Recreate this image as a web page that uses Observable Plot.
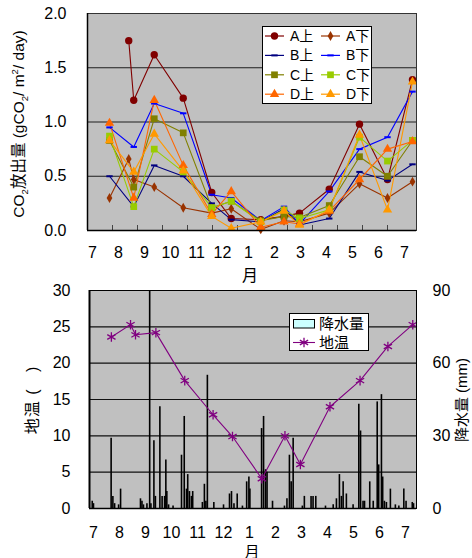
<!DOCTYPE html>
<html><head><meta charset="utf-8">
<script src="https://cdn.jsdelivr.net/npm/d3@7"></script>
<script src="https://cdn.jsdelivr.net/npm/@observablehq/plot@0.6"></script>
<style>
body{margin:0;background:#fff;}
#wrap{position:relative;width:472px;height:558px;font-family:"Liberation Sans",Arial,"Noto Sans CJK JP",sans-serif;color:#000;overflow:hidden;background:#fff}
.abs{position:absolute}
.vt{position:absolute;white-space:nowrap;line-height:1;transform:translate(-50%,-50%) rotate(-90deg);}
.vt sub,.vt sup{font-size:0.62em;line-height:0}
</style></head><body><div id="wrap"></div>
<script>
// ---------------- data ----------------
// sampling dates, in months since 1 July
const sampleMonths = [0.88, 1.65, 1.85, 2.67, 3.83, 4.97, 5.75, 6.93, 7.86, 8.48, 9.67, 10.88, 12.0, 13.0];
const seriesNames = ["A上","A下","B上","B下","C上","C下","D上","D下"];
const A_up   = [null, 1.75, 1.20, 1.62, 1.22, 0.35, 0.11, 0.10, 0.13, 0.16, 0.38, 0.98, 0.47, 1.39];
const A_down = [0.30, 0.66, 0.47, 0.40, 0.21, 0.16, 0.20, 0.01, 0.09, 0.08, 0.16, 0.43, 0.30, 0.45];
const B_up   = [0.50, null, 0.22, 0.60, 0.50, 0.25, 0.10, 0.08, 0.20, 0.05, 0.11, 0.54, 0.46, 0.61];
const B_down = [0.95, null, 0.77, 1.17, 1.08, 0.33, 0.30, 0.09, 0.22, 0.06, 0.36, 0.75, 0.86, 1.28];
const C_up   = [0.83, null, 0.40, 1.03, 0.90, 0.21, 0.27, 0.09, 0.13, 0.12, 0.23, 0.68, 0.50, 0.83];
const C_down = [0.87, null, 0.22, 0.75, 0.54, 0.21, 0.27, 0.08, 0.19, 0.11, 0.19, 0.86, 0.64, 0.83];
const D_up   = [0.99, null, 0.30, 1.20, 0.60, 0.15, 0.36, 0.03, 0.08, 0.06, 0.18, 0.47, 0.75, 0.82];
const D_down = [0.83, null, 0.54, 0.89, 0.55, 0.13, 0.02, 0.08, 0.18, 0.05, 0.19, 0.88, 0.19, 1.37];
const co2Ticks = [0, 0.5, 1.0, 1.5, 2.0];

const soilTemp = [23.6, 25.3, 23.9, 24.2, 17.6, 12.9, 9.9, 4.1, 10.0, 6.05, 14.0, 17.6, 22.3, 25.3];
const tempTicks = [0, 5, 10, 15, 20, 25, 30];
const rainTicks = [0, 30, 60, 90];

const rainMonths = [0.11,0.16,0.87,0.94,1.01,1.17,1.25,2.05,2.11,2.17,2.31,2.42,2.47,2.59,2.65,2.83,2.92,3.02,3.07,3.11,3.18,3.36,3.70,3.81,3.90,3.95,4.02,4.10,4.15,4.54,4.62,4.68,4.74,5.00,5.39,5.63,5.71,5.81,5.94,6.15,6.32,6.41,6.45,6.92,7.00,7.08,7.14,7.36,7.84,7.94,8.04,8.11,8.19,8.56,8.64,8.91,8.99,9.10,9.49,9.80,9.93,10.05,10.13,10.20,10.33,10.60,10.83,10.90,11.00,11.06,11.27,11.41,11.57,11.63,11.74,11.79,11.86,11.94,12.10,12.30,12.44,12.64,12.73,12.98,13.03];
const rainMm     = [3,2,29,5,2,1.5,8,4,3,1.5,2,120,2,28,5,42,5,5,20,7,1.5,1,22,38,8,14,7,5,7,2.5,10,3,55,2.5,1.5,6,7,2,6,1,11,13,8,33,38,16,15,3,1,4,22,11,29,1,5,5,5,5,1,1.5,4,14,5,11,6,1.5,43,32,3,3,11,3,44,18,47,13,3,2.5,8,1.5,1,8,3,2.5,2];

const monthLabels = ["7","8","9","10","11","12","1","2","3","4","5","6","7"];
const monthTicks = [1,2,3,4,5,6,7,8,9,10,11,12];

// ---------------- styles ----------------
const FONT = '"Liberation Sans", Arial, "Noto Sans CJK JP", sans-serif';
const seriesValues = [A_up, A_down, B_up, B_down, C_up, C_down, D_up, D_down];
const seriesColors = ["#800000","#993300","#000080","#0000ff","#808000","#99cc00","#ff6600","#ff9900"];
const dash = {draw(ctx, size){ const w = Math.sqrt(size)/2; ctx.moveTo(-w,-1); ctx.lineTo(w,-1); ctx.lineTo(w,1); ctx.lineTo(-w,1); ctx.closePath(); }};
const seriesSymbols = [d3.symbolCircle, d3.symbolDiamond, dash, dash, d3.symbolSquare, d3.symbolSquare, d3.symbolTriangle, d3.symbolTriangle];
const seriesR = [3.7, 3.0, 3.6, 3.6, 3.8, 3.8, 3.5, 3.5];

const wrap = document.getElementById("wrap");
function place(node, left, top){ node.style.position="absolute"; node.style.left=left+"px"; node.style.top=top+"px"; wrap.appendChild(node); return node; }
function html(s, left, top, cls, style){ const d=document.createElement("div"); d.className=cls||""; d.innerHTML=s; if(style) d.setAttribute("style", style); d.style.position="absolute"; d.style.left=left+"px"; d.style.top=top+"px"; wrap.appendChild(d); return d; }

// ---------------- top chart ----------------
const co2Rows = [];
seriesNames.forEach((name, i) => seriesValues[i].forEach((v, j) => { if (v != null) co2Rows.push({series: name, t: sampleMonths[j], v}); }));

const topH = 235, topPlotTop = 13, topPlotBottom = 230;
const topChart = Plot.plot({
  width: 472, height: topH,
  marginLeft: 87, marginRight: 472 - 416, marginTop: topPlotTop, marginBottom: topH - topPlotBottom,
  style: {fontFamily: FONT, fontSize: "16px", background: "transparent", color: "#000", overflow: "visible"},
  x: {domain: [0, 13.16], axis: null},
  y: {domain: [0, 2], axis: null},
  color: {domain: seriesNames, range: seriesColors},
  marks: [
    Plot.frame({fill: "#c0c0c0", stroke: null}),
    Plot.ruleY([0.5, 1.0, 1.5], {stroke: "#1e1e1e", strokeWidth: 1.2}),
    Plot.tickX(monthTicks, {x: d => d, stroke: "#444", insetTop: (topPlotBottom - topPlotTop) - 5}),
    Plot.line(co2Rows, {x: "t", y: "v", z: "series", stroke: "series", strokeWidth: 1.1}),
    ...seriesNames.map((name, i) => Plot.dot(co2Rows.filter(d => d.series === name), {x: "t", y: "v", symbol: seriesSymbols[i], fill: seriesColors[i], r: seriesR[i], stroke: null})),
    Plot.axisY(co2Ticks, {anchor: "left", tickSize: 0, tickPadding: 21, tickFormat: d3.format(".1f"), fontSize: 16, label: null}),
    Plot.frame({stroke: "#333", strokeWidth: 1}),
    Plot.ruleX([0], {stroke: "#000", strokeWidth: 1.5}),
    Plot.ruleY([0], {stroke: "#000", strokeWidth: 1.5})
  ]
});
place(topChart, 0, 0);

// top legend
(function(){
  const W = 110, H = 78;
  const svg = d3.create("svg").attr("width", W).attr("height", H).style("overflow","visible");
  svg.append("rect").attr("x",0.5).attr("y",0.5).attr("width",W-1).attr("height",H-1).attr("fill","#fff").attr("stroke","#000");
  seriesNames.forEach((name, i) => {
    const col = i % 2, row = Math.floor(i / 2);
    const x0 = col ? 59 : 3, y = 10 + row * 19.4;
    const g = svg.append("g");
    g.append("line").attr("x1", x0).attr("x2", x0 + 19).attr("y1", y).attr("y2", y).attr("stroke", seriesColors[i]).attr("stroke-width", 1.2);
    g.append("path").attr("transform", `translate(${x0 + 9.5},${y})`).attr("d", d3.symbol(seriesSymbols[i], Math.PI * seriesR[i] * seriesR[i])()).attr("fill", seriesColors[i]);
    g.append("text").attr("x", x0 + 25).attr("y", y).attr("dy", "0.36em").attr("font-size", 14).attr("font-family", FONT).text(name);
  });
  place(svg.node(), 262, 26);
})();

// top axis title
html('CO<sub>2</sub>放出量 (gCO<sub>2</sub>/ m<sup>2</sup>/ day)', 19, 124, "vt", "font-size:15.5px");

// month label rows
function monthRow(left, right){
  return Plot.plot({
    width: 472, height: 22, marginLeft: left, marginRight: 472 - right, marginTop: 0, marginBottom: 22,
    style: {fontFamily: FONT, fontSize: "16px", background: "transparent", color: "#000", overflow: "visible"},
    x: {type: "point", domain: d3.range(monthLabels.length), padding: 0, axis: null},
    marks: [Plot.axisX(d3.range(monthLabels.length), {anchor: "bottom", tickSize: 0, tickPadding: 0, tickFormat: i => monthLabels[i], fontSize: 16, label: null})]
  });
}
place(monthRow(87.5, 407.5), 0, 246);
html("月", 250, 276, "", "font-size:16px;transform:translate(-50%,-50%);line-height:1");

// ---------------- bottom chart ----------------
const rainRows = rainMonths.map((t, i) => ({t, mm: rainMm[i]}));
const tempRows = sampleMonths.map((t, i) => ({t, temp: soilTemp[i]}));
const rainPerDeg = rainTicks[rainTicks.length - 1] / tempTicks[tempTicks.length - 1];

const botTop = 280, botH = 240, botPlotTop = 290, botPlotBottom = 508;
const botChart = Plot.plot({
  width: 472, height: botH,
  marginLeft: 89, marginRight: 472 - 416, marginTop: botPlotTop - botTop, marginBottom: botTop + botH - botPlotBottom,
  style: {fontFamily: FONT, fontSize: "16px", background: "transparent", color: "#000", overflow: "visible"},
  x: {domain: [0, 13.15], axis: null},
  y: {domain: [0, 30], axis: null},
  marks: [
    Plot.frame({fill: "#c0c0c0", stroke: null}),
    Plot.ruleY([5, 10, 15, 20, 25], {stroke: "#111", strokeWidth: 1.2}),
    Plot.ruleX(rainRows, {x: "t", y1: 0, y2: d => d.mm / rainPerDeg, stroke: "#000", strokeWidth: 1.6, clip: true}),
    Plot.line(tempRows, {x: "t", y: "temp", stroke: "#800080", strokeWidth: 1.1}),
    Plot.dot(tempRows, {x: "t", y: "temp", symbol: "asterisk", stroke: "#800080", r: 4.5, strokeWidth: 1.3}),
    Plot.axisY(tempTicks, {anchor: "left", tickSize: 0, tickPadding: 19, fontSize: 16, label: null}),
    Plot.axisY(rainTicks.map(v => v / rainPerDeg), {anchor: "right", tickSize: 0, tickPadding: 16, tickFormat: d => String(Math.round(d * rainPerDeg)), fontSize: 16, label: null}),
    Plot.frame({stroke: "#000", strokeWidth: 1}),
    Plot.ruleX([0], {stroke: "#000", strokeWidth: 2}),
    Plot.ruleY([0], {stroke: "#000", strokeWidth: 1.5})
  ]
});
place(botChart, 0, botTop);

// bottom legend
(function(){
  const W = 80, H = 38;
  const svg = d3.create("svg").attr("width", W).attr("height", H).style("overflow","visible");
  svg.append("rect").attr("x",0.5).attr("y",0.5).attr("width",W-1).attr("height",H-1).attr("fill","#fff").attr("stroke","#000");
  svg.append("rect").attr("x",4.5).attr("y",6.5).attr("width",21).attr("height",8.5).attr("fill","#ccffff").attr("stroke","#000");
  svg.append("text").attr("x",30).attr("y",11).attr("dy","0.36em").attr("font-size",15).attr("font-family",FONT).text("降水量");
  svg.append("line").attr("x1",4).attr("x2",26).attr("y1",29.5).attr("y2",29.5).attr("stroke","#800080").attr("stroke-width",1.1);
  svg.append("path").attr("transform","translate(15,29.5)").attr("d", d3.symbol(d3.symbolAsterisk, Math.PI*4.5*4.5)()).attr("fill","none").attr("stroke","#800080").attr("stroke-width",1.3);
  svg.append("text").attr("x",30).attr("y",29.5).attr("dy","0.36em").attr("font-size",15).attr("font-family",FONT).text("地温");
  place(svg.node(), 289, 313);
})();

// bottom axis titles
html('地温 (&nbsp;&nbsp;&nbsp;)', 33, 400, "vt", "font-size:16px;letter-spacing:1px");
html('降水量 (mm)', 461, 400, "vt", "font-size:15px");

// month label row for bottom chart
place(monthRow(91.5, 406.5), 0, 526);
html("月", 252, 551, "", "font-size:15px;transform:translate(-50%,-50%);line-height:1");
</script></body></html>
